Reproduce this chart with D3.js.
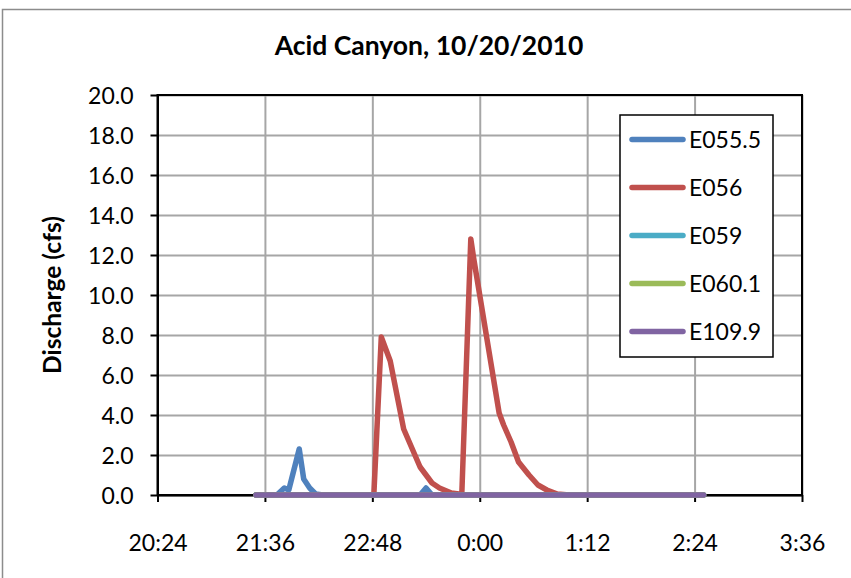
<!DOCTYPE html>
<html>
<head>
<meta charset="utf-8">
<script src="https://cdn.jsdelivr.net/npm/d3@7"></script>
<style>
  html, body { margin: 0; padding: 0; background: #fff; }
  svg { display: block; }
  text { font-family: Lato, "Open Sans", sans-serif; fill: #000; }
</style>
</head>
<body>
<svg id="chart" width="851" height="578"></svg>
<script>
// ---- data ----
const title = "Acid Canyon, 10/20/2010";
const yTitle = "Discharge (cfs)";
const xTickLabels = ["20:24", "21:36", "22:48", "0:00", "1:12", "2:24", "3:36"];
const yTickValues = [0, 2, 4, 6, 8, 10, 12, 14, 16, 18, 20];
const seriesNames = ["E055.5", "E056", "E059", "E060.1", "E109.9"];
const seriesColors = ["#4F81BD", "#C0504D", "#4BACC6", "#9BBB59", "#8064A2"];

const e0555Times  = ["21:30", "21:44", "21:49", "21:52", "21:59", "22:02", "22:06", "22:10", "22:15", "23:20", "23:24", "23:28", "2:30"];
const e0555Values = [0, 0, 0.35, 0.25, 2.3, 0.8, 0.35, 0.05, 0, 0, 0.35, 0, 0];

const e056Times  = ["21:30", "22:49", "22:54", "23:00", "23:09", "23:20", "23:28", "23:33", "23:41", "23:46", "23:48", "23:54", "23:56", "0:13", "0:16", "0:21", "0:26", "0:33", "0:39", "0:45", "0:52", "1:00", "2:30"];
const e056Values = [0, 0, 7.9, 6.7, 3.3, 1.4, 0.6, 0.35, 0.1, 0.05, 0.1, 12.8, 11.8, 4.1, 3.5, 2.65, 1.65, 1.0, 0.5, 0.25, 0.05, 0, 0];

const e059Times   = ["21:30", "2:30"];
const e059Values  = [0, 0];
const e0601Times  = ["21:30", "2:30"];
const e0601Values = [0, 0];
const e1099Times  = ["21:30", "2:30"];
const e1099Values = [0, 0];

// ---- helpers ----
function toDate(s) {
  const [h, m] = s.split(":").map(Number);
  return new Date(2010, 9, h < 12 ? 21 : 20, h, m);
}

const allSeries = [
  { times: e0555Times, values: e0555Values },
  { times: e056Times, values: e056Values },
  { times: e059Times, values: e059Values },
  { times: e0601Times, values: e0601Values },
  { times: e1099Times, values: e1099Values }
].map((s, i) => ({
  name: seriesNames[i],
  color: seriesColors[i],
  points: s.times.map((t, j) => ({ t: toDate(t), v: s.values[j] }))
}));

// ---- layout ----
const svg = d3.select("#chart");
const L = 157.5, R = 802, T = 95, B = 495;

const x = d3.scaleTime()
  .domain([toDate(xTickLabels[0]), toDate(xTickLabels[xTickLabels.length - 1])])
  .range([L, R]);
const y = d3.scaleLinear().domain([0, 20]).range([B, T]);

// outer chart border
svg.append("path")
  .attr("d", "M2.5,578 V9.5 H851")
  .attr("fill", "none")
  .attr("stroke", "#8c8c8c")
  .attr("stroke-width", 1.5);

// title
svg.append("text")
  .attr("x", 429).attr("y", 55)
  .attr("text-anchor", "middle")
  .attr("font-weight", "bold")
  .attr("font-size", 26.5)
  .text(title);

// gridlines
const xTicks = xTickLabels.map(toDate);
svg.append("g")
  .attr("transform", `translate(0,${B})`)
  .call(d3.axisBottom(x).tickValues(xTicks).tickSize(-(B - T)).tickFormat(""))
  .call(g => g.select(".domain").remove())
  .call(g => g.selectAll("line").attr("stroke", "#a6a6a6").attr("stroke-width", 2));
svg.append("g")
  .attr("transform", `translate(${L},0)`)
  .call(d3.axisLeft(y).tickValues(yTickValues).tickSize(-(R - L)).tickFormat(""))
  .call(g => g.select(".domain").remove())
  .call(g => g.selectAll("line").attr("stroke", "#a6a6a6").attr("stroke-width", 2));

// plot border
svg.append("rect")
  .attr("x", L).attr("y", T).attr("width", R - L).attr("height", B - T)
  .attr("fill", "none").attr("stroke", "#000").attr("stroke-width", 2);

// axes
const xAxis = svg.append("g")
  .attr("transform", `translate(0,${B})`)
  .call(d3.axisBottom(x).tickValues(xTicks).tickSize(7).tickSizeOuter(0)
    .tickFormat((d, i) => xTickLabels[i]));
xAxis.select(".domain").attr("stroke", "#000").attr("stroke-width", 2);
xAxis.selectAll("line").attr("stroke", "#000").attr("stroke-width", 2);
xAxis.selectAll("text").attr("font-size", 23).attr("dy", 0).attr("y", 56)
  .style("font-family", "Lato, sans-serif");

const yAxis = svg.append("g")
  .attr("transform", `translate(${L},0)`)
  .call(d3.axisLeft(y).tickValues(yTickValues).tickSize(7).tickSizeOuter(0)
    .tickFormat(d3.format(".1f")));
yAxis.select(".domain").attr("stroke", "#000").attr("stroke-width", 2);
yAxis.selectAll("line").attr("stroke", "#000").attr("stroke-width", 2);
yAxis.selectAll("text").attr("font-size", 23).attr("x", -24).attr("dy", "0.35em")
  .style("font-family", "Lato, sans-serif");

// y title
svg.append("text")
  .attr("transform", "translate(52,295) rotate(-90)")
  .attr("text-anchor", "middle")
  .attr("dy", "0.35em")
  .attr("font-weight", "bold")
  .attr("font-size", 24.5)
  .text(yTitle);

// series
const line = d3.line().x(d => x(d.t)).y(d => y(d.v));
svg.append("g").selectAll("path")
  .data(allSeries)
  .join("path")
  .attr("d", d => line(d.points))
  .attr("fill", "none")
  .attr("stroke", d => d.color)
  .attr("stroke-width", 5.5)
  .attr("stroke-linecap", "round")
  .attr("stroke-linejoin", "round");

// legend
const lg = svg.append("g");
lg.append("rect")
  .attr("x", 620).attr("y", 115).attr("width", 153).attr("height", 242)
  .attr("fill", "#fff").attr("stroke", "#000").attr("stroke-width", 1.5);
const items = lg.selectAll("g.item").data(allSeries).join("g")
  .attr("class", "item")
  .attr("transform", (d, i) => `translate(0,${139.5 + i * 48})`);
items.append("line")
  .attr("x1", 632).attr("x2", 683)
  .attr("stroke", d => d.color).attr("stroke-width", 5.5)
  .attr("stroke-linecap", "round");
items.append("text")
  .attr("x", 689).attr("dy", "0.35em")
  .attr("font-size", 23)
  .text(d => d.name);
</script>
</body>
</html>
